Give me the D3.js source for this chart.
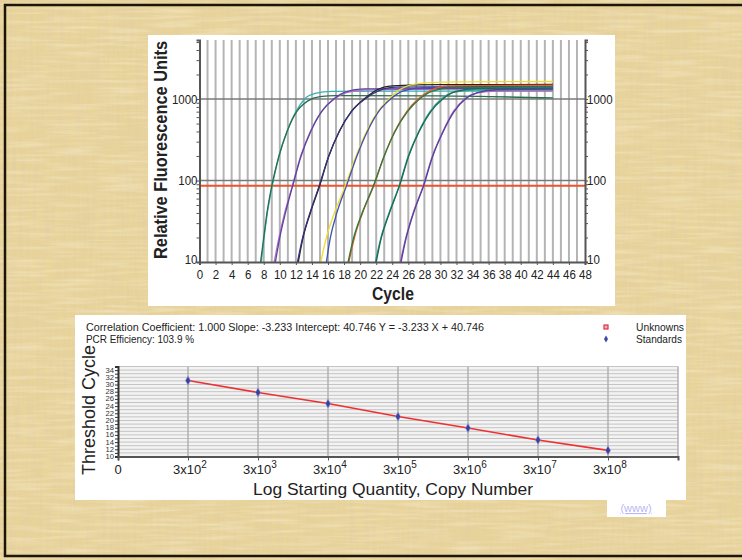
<!DOCTYPE html>
<html>
<head>
<meta charset="utf-8">
<script src="https://cdn.jsdelivr.net/npm/d3@7"></script>
<style>
  body { margin: 0; background: #e6cf94; }
  svg { display: block; }
  .narrow { font-family: "Liberation Sans Narrow", "Arial Narrow", "Liberation Sans", Arial, sans-serif; }
  .plain { font-family: "Liberation Sans", Arial, sans-serif; }
</style>
</head>
<body>
<script>
// top chart: amplification curves (cycle, RFU)
const cycleLabels = [0,2,4,6,8,10,12,14,16,18,20,22,24,26,28,30,32,34,36,38,40,42,44,46,48];
const rfuLabels = [10, 100, 1000];
const thresholdRFU = 86;
const curveColors = ["#36b0b4","#2a6e50","#c76ac8","#54489f","#222222","#35317a","#f0dc30","#4050b0",
                     "#e55a2a","#2c7a3c","#2a9f95","#1e6a52","#c560b8","#4d44a0"];
const curvePoints = [
  [[7.7,10],[8.05,20],[8.45,40],[9.06,86],[9.9,200],[10.9,400],[12.0,700],[13.1,1000],[14.4,1170],[16.5,1240],[25,1250],[44,1255]],
  [[7.6,10],[8.0,20],[8.4,40],[9.0,86],[9.9,200],[10.9,400],[12.1,700],[13.5,950],[15,1070],[17,1100],[30,1090],[44,1030]],
  [[9.3,10],[9.9,20],[10.6,40],[11.56,86],[12.6,200],[13.8,400],[15.2,700],[16.8,1000],[18.3,1200],[20.5,1290],[30,1320],[44,1330]],
  [[9.45,10],[10.0,20],[10.7,40],[11.6,86],[12.65,200],[13.85,400],[15.2,700],[16.7,1000],[18.2,1220],[20.5,1330],[44,1360]],
  [[12.3,10],[12.9,20],[13.8,40],[14.96,86],[16.1,200],[17.4,400],[18.9,700],[20.5,1000],[22,1280],[24,1450],[30,1500],[44,1510]],
  [[12.2,10],[12.85,20],[13.75,40],[14.9,86],[16.1,200],[17.4,400],[18.9,700],[20.6,1000],[22.2,1250],[24.5,1400],[44,1440]],
  [[15.1,10],[15.8,20],[16.8,40],[18.15,86],[19.5,200],[20.8,400],[22.2,700],[23.6,1000],[25,1320],[27.5,1560],[32,1620],[44,1640]],
  [[15.8,10],[16.3,20],[17.1,40],[18.3,86],[19.6,200],[20.9,400],[22.3,700],[23.8,1000],[25.3,1250],[27.8,1380],[44,1400]],
  [[18.6,10],[19.3,20],[20.3,40],[21.7,86],[23.0,200],[24.3,400],[25.8,700],[27.2,1000],[28.8,1280],[31,1450],[44,1480]],
  [[18.5,10],[19.2,20],[20.25,40],[21.65,86],[23.0,200],[24.35,400],[25.9,700],[27.4,1000],[29,1250],[31.5,1380],[44,1410]],
  [[21.9,10],[22.6,20],[23.6,40],[24.85,86],[26.0,200],[27.3,400],[28.7,700],[30.1,1000],[31.5,1200],[34,1290],[44,1300]],
  [[22.0,10],[22.65,20],[23.65,40],[24.9,86],[26.05,200],[27.35,400],[28.8,700],[30.3,1000],[31.8,1230],[34.5,1340],[44,1350]],
  [[25.0,10],[25.7,20],[26.6,40],[27.85,86],[29.0,200],[30.3,400],[31.6,700],[33.0,1000],[34.5,1180],[37,1250],[44,1260]],
  [[25.1,10],[25.75,20],[26.65,40],[27.9,86],[29.05,200],[30.35,400],[31.7,700],[33.1,1000],[34.6,1200],[37,1300],[44,1320]]
];

// bottom chart: standard curve
const quantityExp = [2,3,4,5,6,7,8];
const standardCt = [31.1, 27.8, 24.7, 21.1, 17.9, 14.6, 11.7];
const ctLabels = [10,12,14,16,18,20,22,24,26,28,30,32,34];
const statsLines = ["Correlation Coefficient: 1.000   Slope: -3.233   Intercept: 40.746   Y = -3.233 X + 40.746",
                    "PCR Efficiency: 103.9 %"];
const legendNames = ["Unknowns", "Standards"];

var svg = d3.select("body").append("svg")
    .attr("width", 742)
    .attr("height", 560);

// papyrus background
var defs = svg.append("defs");
var fibV = defs.append("filter").attr("id", "fibV").attr("x", 0).attr("y", 0).attr("width", 1).attr("height", 1);
fibV.append("feTurbulence").attr("type", "fractalNoise").attr("baseFrequency", "0.3 0.02").attr("numOctaves", 2).attr("seed", 4);
fibV.append("feColorMatrix").attr("type", "matrix")
    .attr("values", "0 0 0 0 0.76  0 0 0 0 0.62  0 0 0 0 0.36  1.4 0 0 0 -0.5");
var fibH = defs.append("filter").attr("id", "fibH").attr("x", 0).attr("y", 0).attr("width", 1).attr("height", 1);
fibH.append("feTurbulence").attr("type", "fractalNoise").attr("baseFrequency", "0.02 0.3").attr("numOctaves", 2).attr("seed", 9);
fibH.append("feColorMatrix").attr("type", "matrix")
    .attr("values", "0 0 0 0 0.98  0 0 0 0 0.93  0 0 0 0 0.76  0.8 0 0 0 -0.34");

svg.append("rect").attr("width", 742).attr("height", 560).attr("fill", "#e8d39a");
svg.append("rect").attr("width", 742).attr("height", 560).attr("filter", "url(#fibV)");
svg.append("rect").attr("width", 742).attr("height", 560).attr("filter", "url(#fibH)");
svg.append("rect")
    .attr("x", 5).attr("y", 5).attr("width", 800).attr("height", 551)
    .attr("fill", "none").attr("stroke", "#1c1608").attr("stroke-width", 2.5);

// ---------- top chart ----------
svg.append("rect").attr("x", 148).attr("y", 35).attr("width", 467).attr("height", 271).attr("fill", "#fff");

var xTop = d3.scaleLinear().domain([0, 48]).range([199.5, 585]);
var yTop = d3.scaleLog().domain([10, 5300]).range([262, 40]);
var ampChart = svg.append("g");

ampChart.append("g").selectAll("line")
    .data(d3.range(1, 48))
    .enter().append("line")
    .attr("x1", d => xTop(d)).attr("x2", d => xTop(d))
    .attr("y1", yTop(5300)).attr("y2", yTop(10))
    .attr("stroke", "#b4b4b4").attr("stroke-width", 2);

ampChart.append("g").selectAll("line")
    .data([100, 1000])
    .enter().append("line")
    .attr("x1", xTop(0)).attr("x2", xTop(48))
    .attr("y1", d => yTop(d)).attr("y2", d => yTop(d))
    .attr("stroke", "#7a7a7a").attr("stroke-width", 1.5);

ampChart.append("line")
    .attr("x1", xTop(0)).attr("x2", xTop(48))
    .attr("y1", yTop(thresholdRFU)).attr("y2", yTop(thresholdRFU))
    .attr("stroke", "#f0502a").attr("stroke-width", 2);

var ampLine = d3.line()
    .x(d => xTop(d[0]))
    .y(d => yTop(d[1]))
    .curve(d3.curveMonotoneX);

ampChart.append("g").selectAll("path")
    .data(curvePoints)
    .enter().append("path")
    .attr("fill", "none")
    .attr("stroke", (d, i) => curveColors[i])
    .attr("stroke-width", 1.3)
    .attr("d", ampLine);

// log minor ticks
var minorRfu = [];
[10, 100, 1000].forEach(function(dec) {
    for (var k = 1; k < 10; k++) { if (dec * k <= 5300) minorRfu.push(dec * k); }
});

var leftAxis = ampChart.append("g").attr("class", "narrow")
    .attr("transform", "translate(" + xTop(0) + ",0)")
    .call(d3.axisLeft(yTop).tickValues(minorRfu).tickSize(3).tickFormat(d => rfuLabels.indexOf(d) >= 0 ? d : ""));
var rightAxis = ampChart.append("g").attr("class", "narrow")
    .attr("transform", "translate(" + xTop(48) + ",0)")
    .call(d3.axisRight(yTop).tickValues(minorRfu).tickSize(3).tickFormat(d => rfuLabels.indexOf(d) >= 0 ? d : ""));
var bottomAxis = ampChart.append("g").attr("class", "narrow")
    .attr("transform", "translate(0," + yTop(10) + ")")
    .call(d3.axisBottom(xTop).tickValues(cycleLabels).tickSize(3).tickFormat(d3.format("d")));

[leftAxis, rightAxis, bottomAxis].forEach(function(ax) {
    ax.select(".domain").attr("stroke", "#555").attr("stroke-width", 2);
    ax.selectAll(".tick line").attr("stroke", "#555");
    ax.selectAll(".tick text")
        .attr("font-size", 13).attr("fill", "#222")
        .filter(function() { return this.textContent != ""; })
        .attr("textLength", function() { return this.textContent.length * 6.4; })
        .attr("lengthAdjust", "spacingAndGlyphs");
});
leftAxis.selectAll(".tick text").attr("x", -2);
rightAxis.selectAll(".tick text").attr("x", 2);
[leftAxis, rightAxis].forEach(function(ax) {
    ax.selectAll(".tick").filter(d => d == 10).select("text").attr("dy", "0.1em");
});
bottomAxis.selectAll(".tick text").attr("y", 8);

ampChart.append("text").attr("class", "narrow")
    .attr("transform", "translate(167,150) rotate(-90)")
    .attr("text-anchor", "middle")
    .attr("font-size", 18).attr("font-weight", "bold").attr("fill", "#222")
    .attr("textLength", 218).attr("lengthAdjust", "spacingAndGlyphs")
    .text("Relative Fluorescence Units");

ampChart.append("text").attr("class", "narrow")
    .attr("x", 393).attr("y", 300)
    .attr("text-anchor", "middle")
    .attr("font-size", 18.5).attr("font-weight", "bold").attr("fill", "#222")
    .attr("textLength", 42).attr("lengthAdjust", "spacingAndGlyphs")
    .text("Cycle");

// ---------- bottom chart ----------
svg.append("rect").attr("x", 75).attr("y", 315).attr("width", 611).attr("height", 185).attr("fill", "#fff");

var xStd = d3.scaleLinear().domain([1, 9]).range([118, 678]);
var yStd = d3.scaleLinear().domain([10, 35]).range([456.5, 366.5]);
var stdChart = svg.append("g");

stdChart.append("rect")
    .attr("x", xStd(1)).attr("y", yStd(35))
    .attr("width", xStd(9) - xStd(1)).attr("height", yStd(10) - yStd(35))
    .attr("fill", "#f3f3f3");

stdChart.append("g").selectAll("line")
    .data(d3.range(11, 36))
    .enter().append("line")
    .attr("x1", xStd(1)).attr("x2", xStd(9))
    .attr("y1", d => yStd(d)).attr("y2", d => yStd(d))
    .attr("stroke", "#c4c4c4").attr("stroke-width", 1);

stdChart.append("g").selectAll("line")
    .data(quantityExp.concat([9]))
    .enter().append("line")
    .attr("x1", d => xStd(d)).attr("x2", d => xStd(d))
    .attr("y1", yStd(35)).attr("y2", yStd(10))
    .attr("stroke", "#b0b0b0").attr("stroke-width", 1.5);

var stdLine = d3.line()
    .x((d, i) => xStd(quantityExp[i]))
    .y(d => yStd(d));

stdChart.append("path")
    .datum(standardCt)
    .attr("fill", "none")
    .attr("stroke", "#ee3030").attr("stroke-width", 1.6)
    .attr("d", stdLine);

stdChart.append("g").selectAll("path")
    .data(standardCt)
    .enter().append("path")
    .attr("transform", (d, i) => "translate(" + xStd(quantityExp[i]) + "," + yStd(d) + ")")
    .attr("d", d3.symbol(d3.symbolDiamond, 22))
    .attr("fill", "#3a3fa0").attr("stroke", "#8f93d8").attr("stroke-width", 0.6);

var ctAxis = stdChart.append("g").attr("class", "narrow")
    .attr("transform", "translate(" + xStd(1) + ",0)")
    .call(d3.axisLeft(yStd).tickValues(d3.range(10, 36)).tickSize(3)
        .tickFormat(d => ctLabels.indexOf(d) >= 0 ? d : ""));
ctAxis.select(".domain").attr("stroke", "#333").attr("stroke-width", 2);
ctAxis.selectAll(".tick line").attr("stroke", "#333");
ctAxis.selectAll(".tick text").attr("font-size", 6.3).attr("fill", "#333").attr("x", -4)
    .filter(function() { return this.textContent != ""; })
    .attr("textLength", 8.5).attr("lengthAdjust", "spacingAndGlyphs");

var qAxis = stdChart.append("g")
    .attr("transform", "translate(0," + yStd(10) + ")")
    .call(d3.axisBottom(xStd).tickValues([1].concat(quantityExp)).tickSize(4).tickFormat(""));
qAxis.select(".domain").attr("stroke", "#555").attr("stroke-width", 2);
qAxis.selectAll(".tick line").attr("stroke", "#555");

var qLabels = stdChart.append("g").attr("class", "plain").attr("font-size", 13).attr("fill", "#222");
qLabels.append("text").attr("x", xStd(1)).attr("y", 474).attr("text-anchor", "middle").text("0");
quantityExp.forEach(function(e) {
    var t = qLabels.append("text").attr("x", xStd(e) + 2).attr("y", 474).attr("text-anchor", "middle");
    t.append("tspan").text("3x10");
    t.append("tspan").attr("dy", -6).attr("font-size", 10).text(e);
});

stdChart.append("text").attr("class", "plain")
    .attr("transform", "translate(95,410) rotate(-90)")
    .attr("text-anchor", "middle")
    .attr("font-size", 18).attr("fill", "#222")
    .attr("textLength", 130).attr("lengthAdjust", "spacingAndGlyphs")
    .text("Threshold Cycle");

stdChart.append("text").attr("class", "plain")
    .attr("x", 393).attr("y", 495)
    .attr("text-anchor", "middle")
    .attr("font-size", 17).attr("fill", "#222")
    .attr("textLength", 280).attr("lengthAdjust", "spacingAndGlyphs")
    .text("Log Starting Quantity, Copy Number");

stdChart.selectAll(".stats")
    .data(statsLines)
    .enter().append("text")
    .attr("class", "narrow")
    .attr("x", 86).attr("y", (d, i) => 330.5 + i * 12)
    .attr("font-size", 10.5).attr("fill", "#222")
    .attr("textLength", (d, i) => i == 0 ? 398 : 108).attr("lengthAdjust", "spacingAndGlyphs")
    .text(d => d);

stdChart.append("rect").attr("x", 604).attr("y", 325).attr("width", 4).attr("height", 4)
    .attr("fill", "#f4b0b8").attr("stroke", "#e03040").attr("stroke-width", 1.2);
stdChart.append("path").attr("transform", "translate(606,339)")
    .attr("d", d3.symbol(d3.symbolDiamond, 14)).attr("fill", "#4048a8");
stdChart.selectAll(".leg")
    .data(legendNames)
    .enter().append("text")
    .attr("class", "narrow")
    .attr("x", 636).attr("y", (d, i) => 330.5 + i * 12)
    .attr("font-size", 10.5).attr("fill", "#222")
    .attr("textLength", (d, i) => i == 0 ? 48 : 46).attr("lengthAdjust", "spacingAndGlyphs")
    .text(d => d);

// (www) link box
svg.append("rect").attr("x", 607).attr("y", 500).attr("width", 59).attr("height", 17).attr("fill", "#fff");
svg.append("text").attr("class", "plain")
    .attr("x", 636).attr("y", 512)
    .attr("text-anchor", "middle")
    .attr("font-size", 11).attr("fill", "#b8b8f4")
    .attr("text-decoration", "underline")
    .text("(www)");
</script>
</body>
</html>
